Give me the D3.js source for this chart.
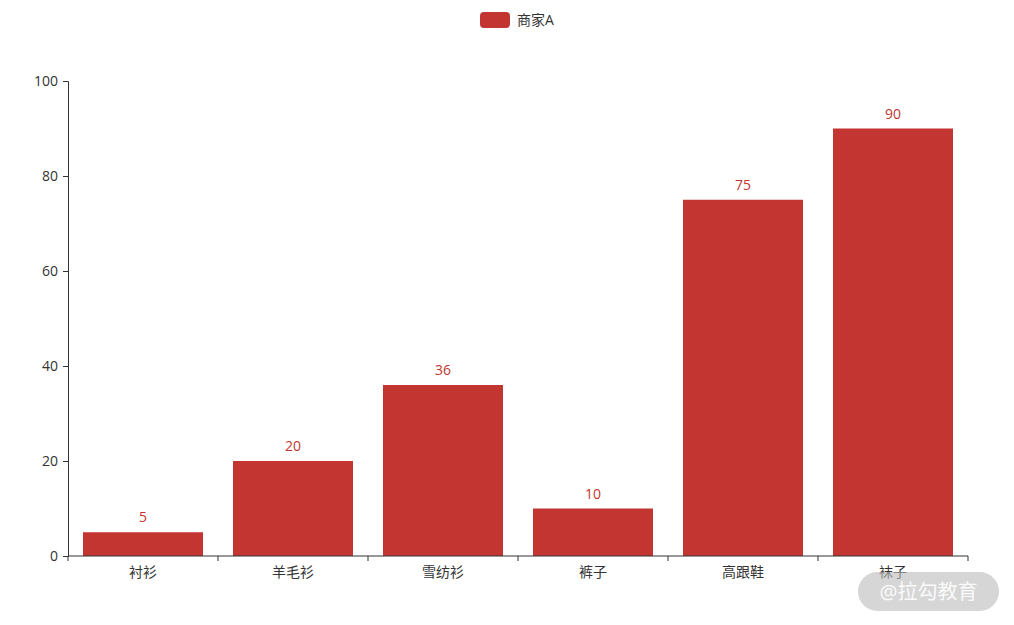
<!DOCTYPE html>
<html>
<head>
<meta charset="utf-8">
<script src="https://cdn.jsdelivr.net/npm/d3@7"></script>
<style>
  body { margin: 0; background: #fff; }
  text { font-family: "Open Sans", "Noto Sans CJK SC", sans-serif; }
</style>
</head>
<body>
<div id="container"></div>
<script>
const categories = ["衬衫", "羊毛衫", "雪纺衫", "裤子", "高跟鞋", "袜子"];
const values = [5, 20, 36, 10, 75, 90];
const seriesName = "商家A";
const yTicks = [0, 20, 40, 60, 80, 100];

const W = 1014, H = 625;
var margin = {top: 81, right: 46, bottom: 69, left: 68};
var width = W - margin.left - margin.right;
var height = H - margin.top - margin.bottom;
var red = "#c23531";

var svg = d3.select("#container").append("svg")
  .attr("width", W)
  .attr("height", H);

var g = svg.append("g")
  .attr("transform", "translate(" + margin.left + "," + margin.top + ")");

var x = d3.scaleBand()
  .domain(categories)
  .range([0, width])
  .paddingInner(0.2)
  .paddingOuter(0.1);

var y = d3.scaleLinear()
  .domain([0, 100])
  .range([height, 0]);

// bars
g.selectAll(".bar")
  .data(values)
  .enter().append("rect")
  .attr("class", "bar")
  .attr("x", (d, i) => x(categories[i]))
  .attr("width", x.bandwidth())
  .attr("y", d => y(d))
  .attr("height", d => height - y(d))
  .attr("fill", red);

// value labels
g.selectAll(".lbl")
  .data(values)
  .enter().append("text")
  .attr("class", "lbl")
  .attr("x", (d, i) => x(categories[i]) + x.bandwidth() / 2)
  .attr("y", d => y(d) - 10)
  .attr("text-anchor", "middle")
  .style("font-size", "14px")
  .style("fill", red)
  .text(d => d);

// y axis
var gy = g.append("g")
  .call(d3.axisLeft(y).tickValues(yTicks).tickSize(5).tickPadding(5));
gy.select(".domain").attr("stroke", "#333");
gy.selectAll(".tick line").attr("stroke", "#333");
gy.selectAll(".tick text").style("font-size", "14px").style("fill", "#333");

// x axis with boundary ticks
var gx = g.append("g")
  .attr("transform", "translate(0," + height + ")");
gx.append("line")
  .attr("x1", 0).attr("x2", width)
  .attr("stroke", "#333");
var edges = d3.range(categories.length + 1).map(i => i * x.step());
gx.selectAll(".xt")
  .data(edges)
  .enter().append("line")
  .attr("x1", d => d).attr("x2", d => d)
  .attr("y1", 0).attr("y2", 5)
  .attr("stroke", "#333");
gx.selectAll(".xl")
  .data(categories)
  .enter().append("text")
  .attr("x", d => x(d) + x.bandwidth() / 2)
  .attr("y", 21)
  .attr("text-anchor", "middle")
  .style("font-size", "14px")
  .style("fill", "#333")
  .text(d => d);

// legend
var lg = svg.append("g").attr("transform", "translate(480,12)");
lg.append("rect")
  .attr("width", 30).attr("height", 16)
  .attr("rx", 4)
  .attr("fill", red);
lg.append("text")
  .attr("x", 37).attr("y", 8)
  .attr("dy", "0.35em")
  .style("font-size", "14px")
  .style("fill", "#333")
  .text(seriesName);

// watermark
var wm = svg.append("g").attr("transform", "translate(858,572)");
wm.append("rect")
  .attr("width", 141).attr("height", 39)
  .attr("rx", 19.5)
  .attr("fill", "#bbb")
  .attr("opacity", 0.6);
wm.append("text")
  .attr("x", 70.5).attr("y", 20)
  .attr("dy", "0.35em")
  .attr("text-anchor", "middle")
  .style("font-size", "20px")
  .style("fill", "#fff")
  .style("opacity", 0.9)
  .text("@拉勾教育");
</script>
</body>
</html>
